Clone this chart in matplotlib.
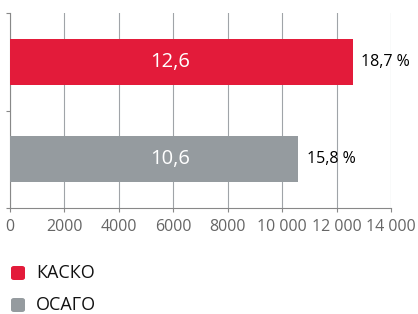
import matplotlib
matplotlib.use("Agg")
import matplotlib.pyplot as plt
from matplotlib.patches import FancyBboxPatch

categories = ["КАСКО", "ОСАГО"]
values = [12600, 10600]
inner_labels = ["12,6", "10,6"]
share_labels = ["18,7 %", "15,8 %"]
colors = ["#E31B3A", "#959B9F"]
xticks = [0, 2000, 4000, 6000, 8000, 10000, 12000, 14000]
xticklabels = ["0", "2000", "4000", "6000", "8000", "10 000", "12 000", "14 000"]

plt.rcParams['font.family'] = ['Open Sans', 'DejaVu Sans']

W, H = 418, 314
fig = plt.figure(figsize=(W/100, H/100), dpi=100)
ax = fig.add_axes([10/W, 1-208/H, (391-10)/W, (208-13)/H])

ypos = [0, 1]
ax.barh(ypos, values, height=0.47, color=colors, zorder=3)
ax.set_ylim(1.5, -0.5)
ax.set_xlim(0, 14000)

for y, v, il, sl in zip(ypos, values, inner_labels, share_labels):
    ax.text(5900, y, il, color="white", ha="center", va="center", fontsize=14.5, zorder=4)
    ax.text(v + 300, y, sl, color="black", ha="left", va="center", fontsize=11.5, zorder=4)

ax.set_xticks(xticks)
ax.set_xticklabels(xticklabels, fontsize=11.5, color="#666666")
ax.grid(axis="x", color="#A0A4A8", linewidth=0.8, zorder=0)
ax.set_yticks([-0.5, 0.5, 1.5])
ax.set_yticklabels([])
ax.tick_params(axis="y", length=3, color="#888888", width=0.8, direction="out")
ax.tick_params(axis="x", length=3, color="#888888", width=0.8, direction="out", pad=5)
for s in ["top", "right"]:
    ax.spines[s].set_visible(False)
ax.spines["left"].set_color("#888888")
ax.spines["bottom"].set_color("#888888")

# legend
for i, (c, lab) in enumerate(zip(colors, categories)):
    yc = 273 + i*32
    box = FancyBboxPatch((11/W, 1-(yc+7)/H), 14/W, 14/H,
                         boxstyle="round,pad=0,rounding_size=0.007",
                         transform=fig.transFigure, facecolor=c, edgecolor="none")
    fig.patches.append(box)
    fig.text(36/W, 1-yc/H, lab, fontsize=13, va="center", ha="left", color="#111111")

fig.savefig("out.png", dpi=100)
